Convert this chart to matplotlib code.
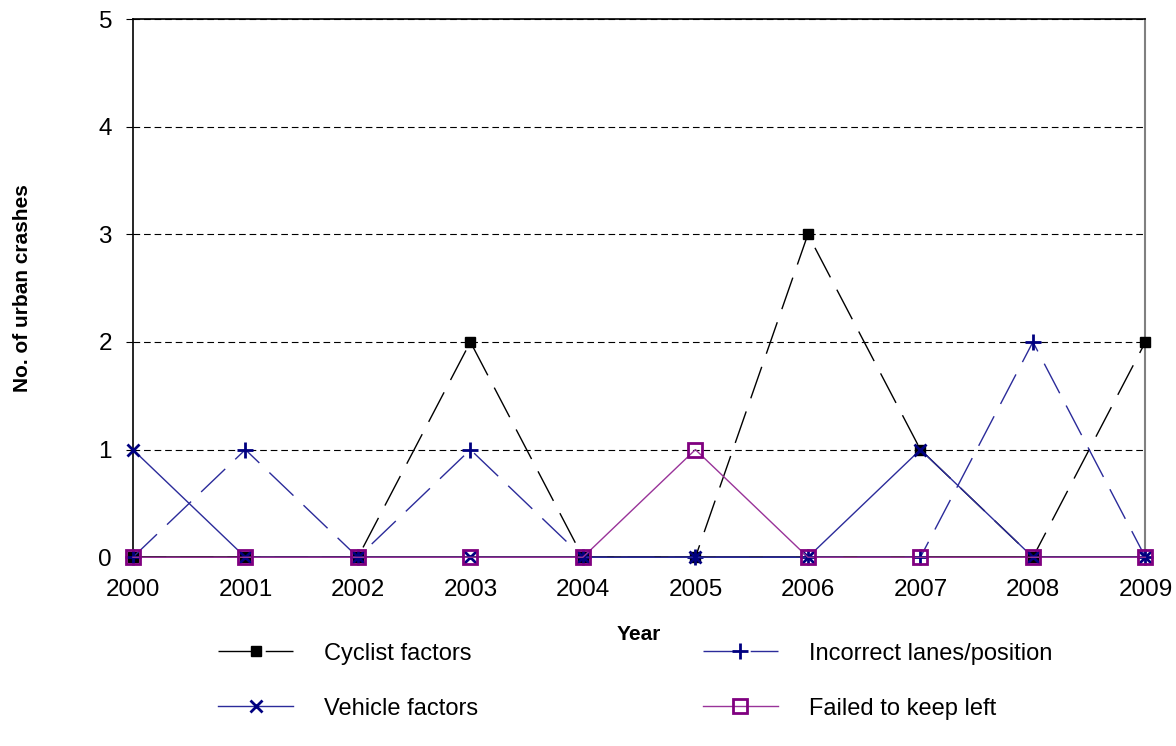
import numpy as np
from matplotlib import pyplot as plt

plt.rcParams['font.family'] = ['Liberation Sans', 'DejaVu Sans']

# Data
years = np.arange(2000, 2010)
cyclist_factors = [0, 0, 0, 2, 0, 0, 3, 1, 0, 2]
incorrect_lanes = [0, 1, 0, 1, 0, 0, 0, 0, 2, 0]
vehicle_factors = [1, 0, 0, 0, 0, 0, 0, 1, 0, 0]
failed_keep_left = [0, 0, 0, 0, 0, 1, 0, 0, 0, 0]

fig = plt.figure(figsize=(11.76, 7.46), dpi=100)
ax = fig.add_axes([0.113, 0.253, 0.861, 0.7215])

# Series
h_cyc, = ax.plot(years, cyclist_factors, color="black", linewidth=1, dashes=(24, 10),
                 marker="s", markersize=7, markerfacecolor="black", markeredgecolor="black",
                 label="Cyclist factors", zorder=3, clip_on=False)
h_inc, = ax.plot(years, incorrect_lanes, color="#2b2b9a", linewidth=1, dashes=(24, 10),
                 marker="+", markersize=11, markeredgewidth=2, markeredgecolor="#000080",
                 label="Incorrect lanes/position", zorder=4, clip_on=False)
h_veh, = ax.plot(years, vehicle_factors, color="#2b2b9a", linewidth=1,
                 marker="x", markersize=8, markeredgewidth=2, markeredgecolor="#000080",
                 label="Vehicle factors", zorder=5, clip_on=False)
h_fail, = ax.plot(years, failed_keep_left, color="#993399", linewidth=1,
                  marker="s", markersize=10, markerfacecolor="none", markeredgewidth=2,
                  markeredgecolor="#800080", label="Failed to keep left", zorder=6, clip_on=False)

# Axes styling
ax.set_xlim(2000, 2009)
ax.set_ylim(0, 5)
ax.set_xticks(years)
ax.set_yticks(range(0, 6))
ax.tick_params(axis="both", labelsize=17.5, length=5, direction="out")
ax.tick_params(axis="y", pad=10)
ax.tick_params(axis="x", length=0, pad=16)
ax.grid(axis="y", color="black", linestyle=(0, (6, 3.5)), linewidth=0.8)
ax.set_axisbelow(True)
for side in ["left", "bottom", "top"]:
    ax.spines[side].set_linewidth(1.2)
ax.spines["right"].set_color("gray")
ax.spines["right"].set_linewidth(1.5)

ax.set_xlabel("Year", fontsize=15, fontweight="bold", labelpad=17)
ax.set_ylabel("No. of urban crashes", fontsize=15, fontweight="bold", labelpad=48)

fig.legend(handles=[h_cyc, h_veh, h_inc, h_fail], ncol=2, loc="center",
           bbox_to_anchor=(0.54, 0.087), frameon=False, fontsize=17,
           handlelength=3.2, columnspacing=9.5, labelspacing=1.4, handletextpad=1.3)

plt.savefig("out.png", dpi=100)
